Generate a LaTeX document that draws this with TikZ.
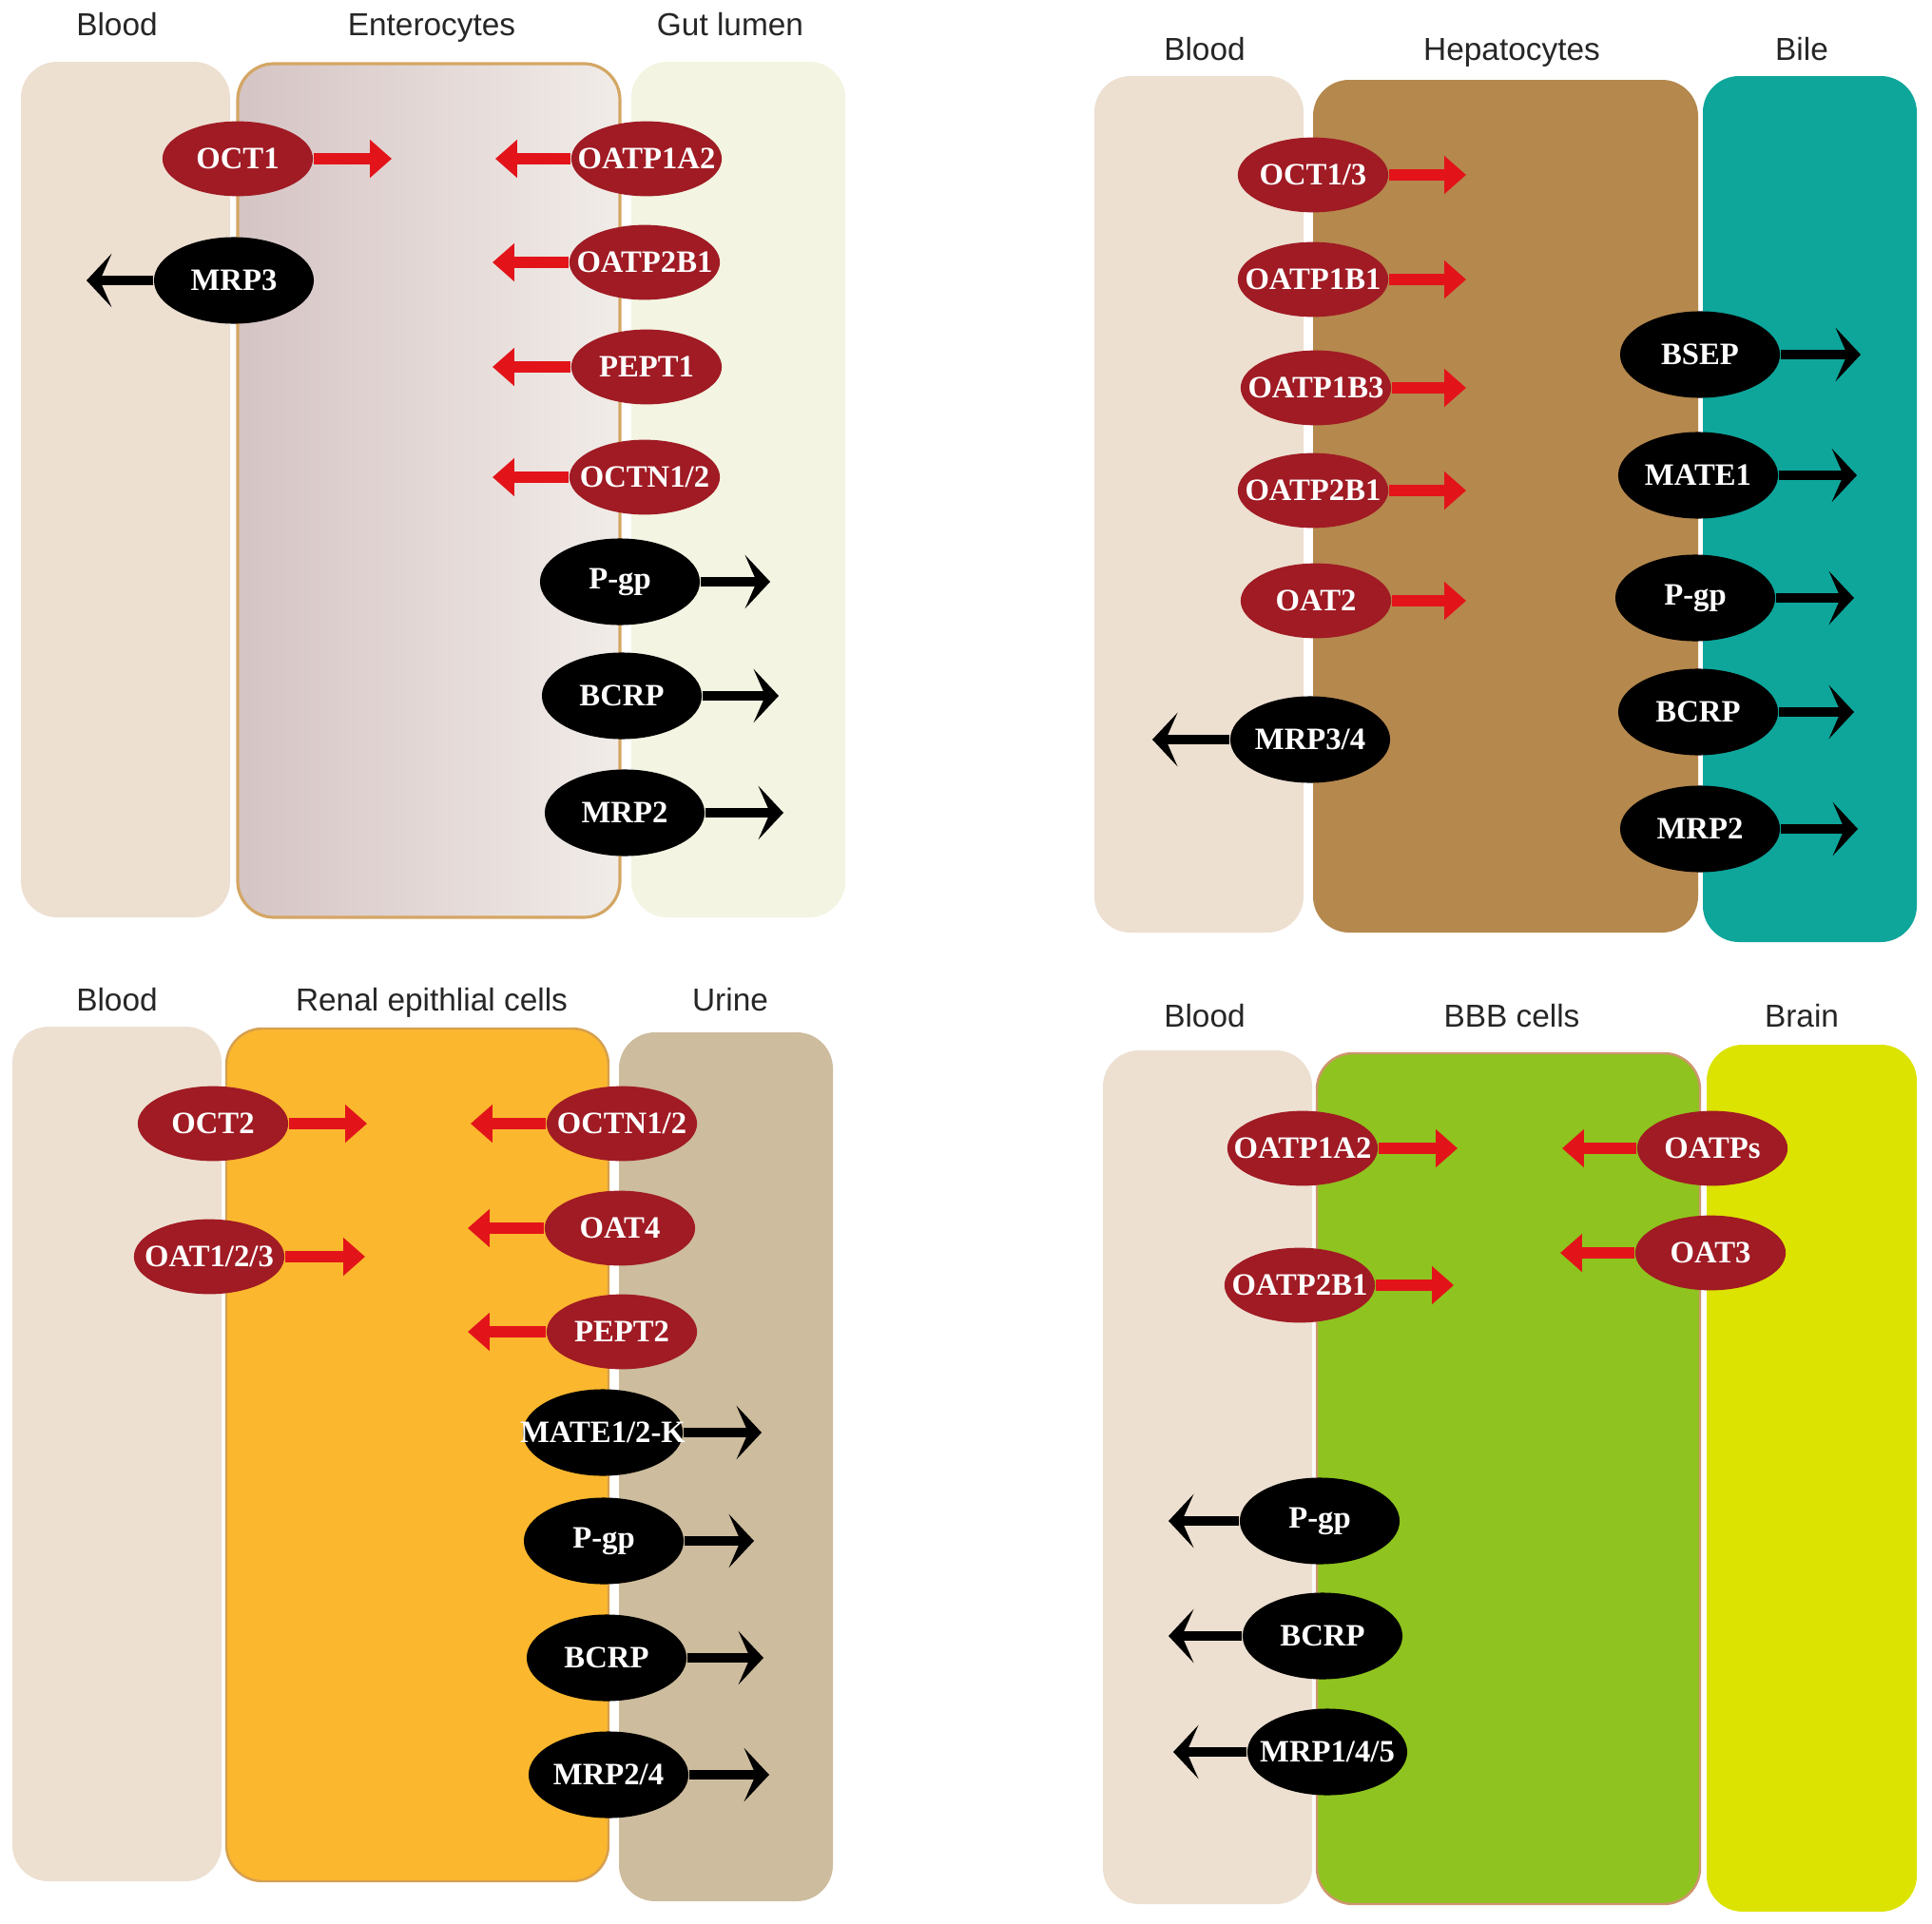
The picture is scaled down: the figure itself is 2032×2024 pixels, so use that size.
\documentclass[tikz,border=0pt]{standalone}
\usepackage{fontspec}
\setmainfont{Liberation Sans}
\newfontfamily\trfont{Liberation Serif}
\usetikzlibrary{shapes.geometric,arrows.meta}
\definecolor{bloodc}{RGB}{237,224,209}
\definecolor{entL}{RGB}{213,196,196}
\definecolor{entR}{RGB}{241,236,232}
\definecolor{entB}{RGB}{212,166,100}
\definecolor{gutc}{RGB}{243,244,225}
\definecolor{hepc}{RGB}{181,136,77}
\definecolor{bilec}{RGB}{14,166,155}
\definecolor{renc}{RGB}{251,183,46}
\definecolor{renB}{RGB}{214,160,80}
\definecolor{urinec}{RGB}{205,188,157}
\definecolor{bbbc}{RGB}{143,195,31}
\definecolor{bbbB}{RGB}{205,150,110}
\definecolor{brainc}{RGB}{220,227,0}
\definecolor{redell}{RGB}{160,27,36}
\definecolor{redarr}{RGB}{226,20,26}
\newcommand\tlab[1]{\makebox[0pt]{#1}}
\tikzset{
  boxshape/.style={rounded corners=0.38cm},
  redT/.style={ellipse, fill=redell, minimum width=45pt, minimum height=22.4pt, inner sep=0pt,
    font=\trfont\bfseries\fontsize{9.3}{11}\selectfont, text=white},
  blkT/.style={ellipse, fill=black, minimum width=47.8pt, minimum height=25.9pt, inner sep=0pt,
    font=\trfont\bfseries\fontsize{9.3}{11}\selectfont, text=white},
  redA/.style={draw=redarr, line width=3.4pt, -{Triangle[length=6.5pt,width=11pt]}, redarr},
  blkA/.style={draw=black, line width=2.6pt, -{Stealth[length=7.5pt,width=16pt,inset=3.5pt]}},
  ttl/.style={font=\fontsize{9.5}{11}\selectfont, text=black!85, text height=7pt, text depth=2pt, inner sep=0pt}
}
\begin{document}
\begin{tikzpicture}[x=0.01cm,y=-0.01cm]
\useasboundingbox[fill=white] (0,0) rectangle (2032,2024);
% ===== Top-left: intestine =====
\fill[boxshape, bloodc] (22,65) rectangle (242,965);
\shade[boxshape, left color=entL, right color=entR] (250,67) rectangle (652,965);
\draw[boxshape, entB, line width=0.9pt] (250,67) rectangle (652,965);
\fill[boxshape, gutc] (664,65) rectangle (889,965);
\node[ttl] (tlt1) at (123,29) {Blood};
\node[ttl] (tlt2) at (454,29) {Enterocytes};
\node[ttl] (tlt3) at (768,29) {Gut lumen};
\node[redT] (tla) at (250,167) {\tlab{OCT1}};
\node[redT] (tlb) at (680,167) {\tlab{OATP1A2}};
\node[blkT] (tlc) at (246,295) {\tlab{MRP3}};
\node[redT] (tld) at (678,276) {\tlab{OATP2B1}};
\node[redT] (tle) at (680,386) {\tlab{PEPT1}};
\node[redT] (tlf) at (678,502) {\tlab{OCTN1/2}};
\node[blkT] (tlg) at (652,612) {\tlab{P-gp}};
\node[blkT] (tlh) at (654,732) {\tlab{BCRP}};
\node[blkT] (tli) at (657,855) {\tlab{MRP2}};
\coordinate (tlae) at (412,167);
\coordinate (tlbe) at (521,167);
\coordinate (tlce) at (91,295);
\coordinate (tlde) at (518,276);
\coordinate (tlee) at (518,386);
\coordinate (tlfe) at (518,502);
\coordinate (tlge) at (810,612);
\coordinate (tlhe) at (819,732);
\coordinate (tlie) at (824,855);
\draw[redA] (tla.east) -- (tlae);
\draw[redA] (tlb.west) -- (tlbe);
\draw[blkA] (tlc.west) -- (tlce);
\draw[redA] (tld.west) -- (tlde);
\draw[redA] (tle.west) -- (tlee);
\draw[redA] (tlf.west) -- (tlfe);
\draw[blkA] (tlg.east) -- (tlge);
\draw[blkA] (tlh.east) -- (tlhe);
\draw[blkA] (tli.east) -- (tlie);
% ===== Top-right: liver =====
\fill[boxshape, bloodc] (1151,80) rectangle (1371,981);
\fill[boxshape, hepc] (1381,84) rectangle (1786,981);
\fill[boxshape, bilec] (1791,80) rectangle (2016,991);
\node[ttl] (trt1) at (1267,55) {Blood};
\node[ttl] (trt2) at (1590,55) {Hepatocytes};
\node[ttl] (trt3) at (1895,55) {Bile};
\node[redT] (tra) at (1381,184) {\tlab{OCT1/3}};
\node[redT] (trb) at (1381,294) {\tlab{OATP1B1}};
\node[redT] (trc) at (1384,408) {\tlab{OATP1B3}};
\node[redT] (trd) at (1381,516) {\tlab{OATP2B1}};
\node[redT] (tre) at (1384,632) {\tlab{OAT2}};
\node[blkT] (trf) at (1378,778) {\tlab{MRP3/4}};
\node[blkT] (trg) at (1788,373) {\tlab{BSEP}};
\node[blkT] (trh) at (1786,500) {\tlab{MATE1}};
\node[blkT] (tri) at (1783,629) {\tlab{P-gp}};
\node[blkT] (trj) at (1786,749) {\tlab{BCRP}};
\node[blkT] (trk) at (1788,872) {\tlab{MRP2}};
\coordinate (trae) at (1542,184);
\coordinate (trbe) at (1542,294);
\coordinate (trce) at (1542,408);
\coordinate (trde) at (1542,516);
\coordinate (tree) at (1542,632);
\coordinate (trfe) at (1212,778);
\coordinate (trge) at (1957,373);
\coordinate (trhe) at (1953,500);
\coordinate (trie) at (1950,629);
\coordinate (trje) at (1950,749);
\coordinate (trke) at (1954,872);
\draw[redA] (tra.east) -- (trae);
\draw[redA] (trb.east) -- (trbe);
\draw[redA] (trc.east) -- (trce);
\draw[redA] (trd.east) -- (trde);
\draw[redA] (tre.east) -- (tree);
\draw[blkA] (trf.west) -- (trfe);
\draw[blkA] (trg.east) -- (trge);
\draw[blkA] (trh.east) -- (trhe);
\draw[blkA] (tri.east) -- (trie);
\draw[blkA] (trj.east) -- (trje);
\draw[blkA] (trk.east) -- (trke);
% ===== Bottom-left: kidney =====
\fill[boxshape, bloodc] (13,1080) rectangle (233,1979);
\filldraw[boxshape, fill=renc, draw=renB, line width=0.7pt] (238,1082) rectangle (640,1979);
\fill[boxshape, urinec] (651,1086) rectangle (876,2000);
\node[ttl] (blt1) at (123,1055) {Blood};
\node[ttl] (blt2) at (454,1055) {Renal epithlial cells};
\node[ttl] (blt3) at (768,1055) {Urine};
\node[redT] (bla) at (224,1182) {\tlab{OCT2}};
\node[redT] (blb) at (220,1322) {\tlab{OAT1/2/3}};
\node[redT] (blc) at (654,1182) {\tlab{OCTN1/2}};
\node[redT] (bld) at (652,1292) {\tlab{OAT4}};
\node[redT] (ble) at (654,1401) {\tlab{PEPT2}};
\node[blkT] (blf) at (634,1507) {\tlab{MATE1/2-K}};
\node[blkT] (blg) at (635,1621) {\tlab{P-gp}};
\node[blkT] (blh) at (638,1744) {\tlab{BCRP}};
\node[blkT] (bli) at (640,1867) {\tlab{MRP2/4}};
\coordinate (blae) at (386,1182);
\coordinate (blbe) at (384,1322);
\coordinate (blce) at (495,1182);
\coordinate (blde) at (492,1292);
\coordinate (blee) at (492,1401);
\coordinate (blfe) at (801,1507);
\coordinate (blge) at (793,1621);
\coordinate (blhe) at (803,1744);
\coordinate (blie) at (809,1867);
\draw[redA] (bla.east) -- (blae);
\draw[redA] (blb.east) -- (blbe);
\draw[redA] (blc.west) -- (blce);
\draw[redA] (bld.west) -- (blde);
\draw[redA] (ble.west) -- (blee);
\draw[blkA] (blf.east) -- (blfe);
\draw[blkA] (blg.east) -- (blge);
\draw[blkA] (blh.east) -- (blhe);
\draw[blkA] (bli.east) -- (blie);
% ===== Bottom-right: BBB =====
\fill[boxshape, bloodc] (1160,1105) rectangle (1380,2003);
\filldraw[boxshape, fill=bbbc, draw=bbbB, line width=0.7pt] (1385,1108) rectangle (1788,2003);
\fill[boxshape, brainc] (1795,1099) rectangle (2016,2011);
\node[ttl] (brt1) at (1267,1072) {Blood};
\node[ttl] (brt2) at (1590,1072) {BBB cells};
\node[ttl] (brt3) at (1895,1072) {Brain};
\node[redT] (bra) at (1370,1208) {\tlab{OATP1A2}};
\node[redT] (brb) at (1367,1352) {\tlab{OATP2B1}};
\node[redT] (brc) at (1801,1208) {\tlab{OATPs}};
\node[redT] (brd) at (1799,1318) {\tlab{OAT3}};
\node[blkT] (bre) at (1388,1600) {\tlab{P-gp}};
\node[blkT] (brf) at (1391,1721) {\tlab{BCRP}};
\node[blkT] (brg) at (1396,1843) {\tlab{MRP1/4/5}};
\coordinate (brae) at (1533,1208);
\coordinate (brbe) at (1529,1352);
\coordinate (brce) at (1643,1208);
\coordinate (brde) at (1641,1318);
\coordinate (bree) at (1229,1600);
\coordinate (brfe) at (1229,1721);
\coordinate (brge) at (1234,1843);
\draw[redA] (bra.east) -- (brae);
\draw[redA] (brb.east) -- (brbe);
\draw[redA] (brc.west) -- (brce);
\draw[redA] (brd.west) -- (brde);
\draw[blkA] (bre.west) -- (bree);
\draw[blkA] (brf.west) -- (brfe);
\draw[blkA] (brg.west) -- (brge);
\end{tikzpicture}
\end{document}
